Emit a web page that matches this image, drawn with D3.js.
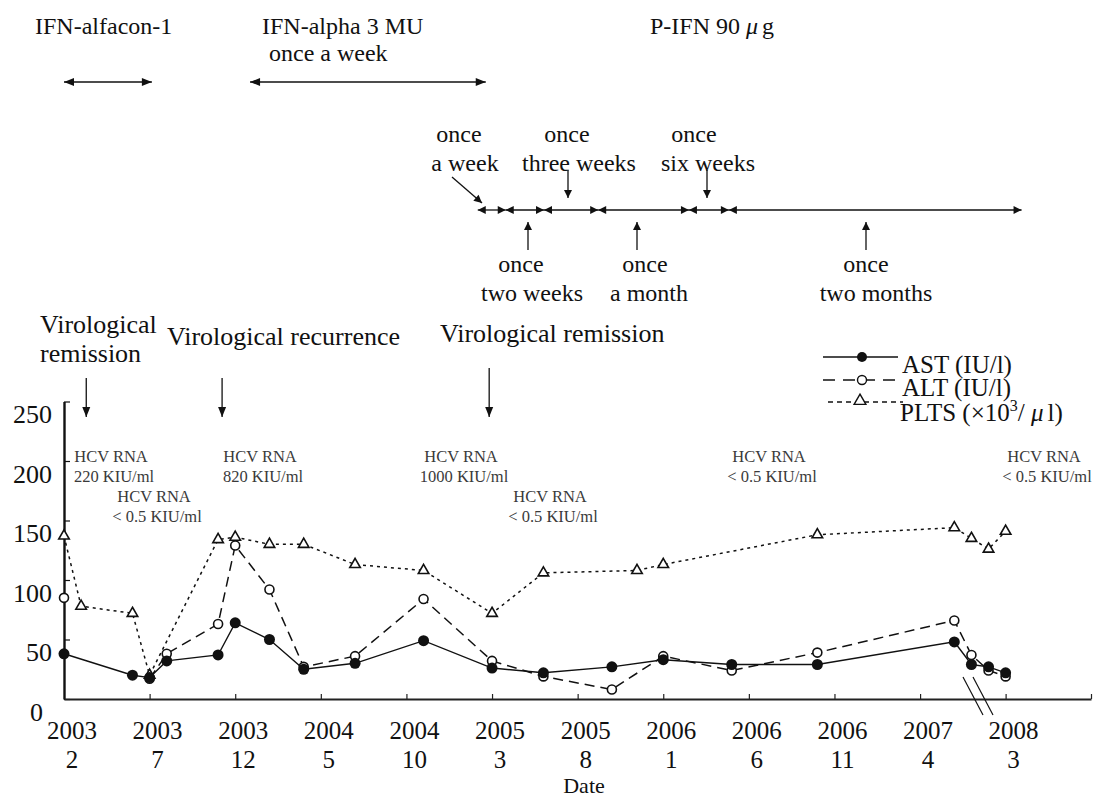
<!DOCTYPE html>
<html>
<head>
<meta charset="utf-8">
<script src="https://cdn.jsdelivr.net/npm/d3@7/dist/d3.min.js"></script>
<style>
	body { margin: 0; background: #fff; }
	svg { display: block; font-family: "Liberation Serif", "Times New Roman", serif; }
</style>
</head>
<body>
<div id="chart"></div>
<script>
// ---- data ----
var astDates  = ["2003-02","2003-06","2003-07","2003-08","2003-11","2003-12","2004-02","2004-04","2004-07","2004-11",
                 "2005-03","2005-06","2005-10","2006-01","2006-05","2006-10","2007-06","2007-07","2008-02","2008-03"];
var astValues = [38, 20, 18, 32, 37, 64, 50, 25, 30, 49, 26, 22, 27, 33, 29, 29, 48, 29, 27, 22];

var altDates  = ["2003-02","2003-06","2003-07","2003-08","2003-11","2003-12","2004-02","2004-04","2004-07","2004-11",
                 "2005-03","2005-06","2005-10","2006-01","2006-05","2006-10","2007-06","2007-07","2008-02","2008-03"];
var altValues = [85, null, 17, 38, 63, 129, 92, 27, 36, 84, 32, 19, 8, 36, 24, 39, 66, 37, 24, 19];

var pltsDates  = ["2003-02","2003-03","2003-06","2003-07","2003-11","2003-12","2004-02","2004-04","2004-07","2004-11",
                  "2005-03","2005-06","2005-11-15","2006-01","2006-10","2007-06","2007-07","2008-02","2008-03"];
var pltsValues = [137, 78, 72, 20, 134, 136, 130, 130, 113, 108, 72, 106, 108, 113, 138, 144, 135, 126, 141];

var tickDates  = ["2003-02","2003-07","2003-12","2004-05","2004-10","2005-03","2005-08","2006-01","2006-06","2006-11","2007-04","2008-03"];
var tickYears  = ["2003","2003","2003","2004","2004","2005","2005","2006","2006","2006","2007","2008"];
var tickMonths = ["2","7","12","5","10","3","8","1","6","11","4","3"];
var yTicks = [0, 50, 100, 150, 200, 250];

// treatment periods and events
var drugPeriods = [["2003-02-01","2003-07-05"], ["2003-12-27","2005-02-20"]];
var pegBounds = ["2005-02-06","2005-03-25","2005-06-02","2005-09-07","2006-02-16","2006-04-26","2008-03-29"];
var events = [
	{ date: "2003-03-10", top: 378 },
	{ date: "2003-11-08", top: 378 },
	{ date: "2005-02-26", top: 368 }
];
var hcvLabels = [
	{ x: 114, y: 462, t: "220 KIU/ml" },
	{ x: 157, y: 502, t: "< 0.5 KIU/ml" },
	{ x: 263, y: 462, t: "820 KIU/ml" },
	{ x: 464, y: 462, t: "1000 KIU/ml" },
	{ x: 553, y: 502, t: "< 0.5 KIU/ml" },
	{ x: 772, y: 462, t: "< 0.5 KIU/ml" },
	{ x: 1047, y: 462, t: "< 0.5 KIU/ml" }
];

function monthIdx(s) {
	var p = s.split("-").map(Number);
	return (p[0] - 2003) * 12 + (p[1] - 2) + ((p[2] || 1) - 1) / 30;
}

var W = 1094, H = 798;
var svg = d3.select("#chart").append("svg").attr("width", W).attr("height", H);

// axis break between 2007-07 and 2008-02 (6 months cut out)
var x = d3.scaleLinear().domain([0, 53.5, 59.5, 66]).range([64, 980, 980, 1091]);
var y = d3.scaleLinear().domain([0, 250]).range([699, 401.5]);

// ---- axes ----
var yAxis = svg.append("g").attr("transform", "translate(" + x(0) + ",0)")
	.call(d3.axisLeft(y).tickValues(yTicks).tickSize(-6).tickSizeOuter(0).tickPadding(12));
yAxis.attr("font-family", null).attr("font-size", 26);
yAxis.select(".domain").attr("stroke", "#111").attr("stroke-width", 2.4);
yAxis.selectAll(".tick line").attr("stroke", "#111").attr("stroke-width", 1.2);
yAxis.selectAll(".tick text").attr("y", 13).attr("fill", "#111")
	.filter(function (d) { return d === 0; }).attr("x", -21);

var xTickIdx = tickDates.slice(1).map(monthIdx).concat([66]);
var xAxis = svg.append("g").attr("transform", "translate(0," + y(0) + ")")
	.call(d3.axisBottom(x).tickValues(xTickIdx).tickSize(-5).tickSizeOuter(0).tickFormat(""));
xAxis.select(".domain").attr("stroke", "#222").attr("stroke-width", 2.2);
xAxis.selectAll(".tick line").attr("stroke", "#222").attr("stroke-width", 1.2);

// break marks
[0, 10].forEach(function (o) {
	svg.append("line")
		.attr("x1", x(53.5) - 17 + o).attr("y1", y(0) - 22)
		.attr("x2", x(53.5) + 3 + o).attr("y2", y(0) + 16)
		.attr("stroke", "#111").attr("stroke-width", 1.2);
});

// x tick labels (two lines)
var xl = svg.append("g").attr("font-size", 25).attr("text-anchor", "middle").attr("fill", "#111");
tickDates.forEach(function (d, i) {
	var px = x(monthIdx(d)) + 8;
	xl.append("text").attr("x", px).attr("y", 739).text(tickYears[i]);
	xl.append("text").attr("x", px).attr("y", 768).text(tickMonths[i]);
});
svg.append("text").attr("x", 584).attr("y", 793).attr("text-anchor", "middle")
	.attr("font-size", 22).attr("fill", "#111").text("Date");

// ---- series ----
function toPts(dates, vals) {
	return dates.map(function (d, i) { return { t: monthIdx(d), v: vals[i] }; });
}
var ast = toPts(astDates, astValues),
	alt = toPts(altDates, altValues),
	plts = toPts(pltsDates, pltsValues);

var line = d3.line().defined(function (d) { return d.v != null; })
	.x(function (d) { return x(d.t); }).y(function (d) { return y(d.v); });

svg.append("path").datum(plts).attr("d", line).attr("fill", "none")
	.attr("stroke", "#111").attr("stroke-width", 1.5).attr("stroke-dasharray", "3,4");
svg.append("path").datum(alt).attr("d", line).attr("fill", "none")
	.attr("stroke", "#111").attr("stroke-width", 1.5).attr("stroke-dasharray", "10,6");
svg.append("path").datum(ast).attr("d", line).attr("fill", "none")
	.attr("stroke", "#111").attr("stroke-width", 1.4);

var tri = d3.symbol(d3.symbolTriangle, 48);
svg.append("g").selectAll("path").data(plts).join("path")
	.attr("d", tri).attr("transform", function (d) { return "translate(" + x(d.t) + "," + y(d.v) + ")"; })
	.attr("fill", "#fff").attr("stroke", "#111").attr("stroke-width", 1.6);
svg.append("g").selectAll("circle").data(alt.filter(function (d) { return d.v != null; })).join("circle")
	.attr("cx", function (d) { return x(d.t); }).attr("cy", function (d) { return y(d.v); })
	.attr("r", 4.5).attr("fill", "#fff").attr("stroke", "#111").attr("stroke-width", 1.6);
svg.append("g").selectAll("circle").data(ast).join("circle")
	.attr("cx", function (d) { return x(d.t); }).attr("cy", function (d) { return y(d.v); })
	.attr("r", 5.5).attr("fill", "#111");

// ---- arrows helper ----
function head(px, py, dx, dy, len, hw) {
	var n = Math.sqrt(dx * dx + dy * dy), ux = dx / n, uy = dy / n;
	var bx = px - ux * len, by = py - uy * len;
	svg.append("path")
		.attr("d", "M" + px + "," + py + "L" + (bx - uy * hw) + "," + (by + ux * hw) + "L" + (bx + uy * hw) + "," + (by - ux * hw) + "Z")
		.attr("fill", "#111");
}
function arrow(x1, y1, x2, y2, both, len, hw) {
	len = len || 9; hw = hw || 4;
	svg.append("line").attr("x1", x1).attr("y1", y1).attr("x2", x2).attr("y2", y2)
		.attr("stroke", "#111").attr("stroke-width", 1.3);
	head(x2, y2, x2 - x1, y2 - y1, len, hw);
	if (both) head(x1, y1, x1 - x2, y1 - y2, len, hw);
}

// treatment periods
drugPeriods.forEach(function (p) {
	arrow(x(monthIdx(p[0])), 82, x(monthIdx(p[1])), 82, true, 10, 4);
});
for (var i = 0; i < pegBounds.length - 1; i++) {
	arrow(x(monthIdx(pegBounds[i])), 210, x(monthIdx(pegBounds[i + 1])), 210, true, 8, 4);
}

// events
events.forEach(function (e) {
	arrow(x(monthIdx(e.date)), e.top, x(monthIdx(e.date)), 417, false, 10, 4);
});

// pointer arrows for dosing intervals
arrow(452, 177, 482, 203, false, 8, 4);
arrow(568, 170, 568, 198, false, 8, 4);
arrow(707, 170, 707, 198, false, 8, 4);
arrow(528, 250, 528, 222, false, 8, 4);
arrow(637, 250, 637, 222, false, 8, 4);
arrow(866, 250, 866, 222, false, 8, 4);

// ---- texts ----
var tx = svg.append("g").attr("fill", "#111");
function label(xp, yp, s, size, anchor) {
	return tx.append("text").attr("x", xp).attr("y", yp).attr("font-size", size)
		.attr("text-anchor", anchor || "start").text(s);
}
label(35, 34, "IFN-alfacon-1", 24);
label(262, 34, "IFN-alpha 3 MU", 24);
label(269, 61, "once a week", 24);
var pifn = label(650, 34, "P-IFN 90 ", 24);
pifn.append("tspan").attr("font-style", "italic").text("\u03bc");
pifn.append("tspan").attr("dx", 4).text("g");

label(459, 142, "once", 24, "middle");
label(465, 171, "a week", 24, "middle");
label(567, 142, "once", 24, "middle");
label(579, 171, "three weeks", 24, "middle");
label(694, 142, "once", 24, "middle");
label(708, 171, "six weeks", 24, "middle");
label(521, 272, "once", 24, "middle");
label(532, 301, "two weeks", 24, "middle");
label(645, 272, "once", 24, "middle");
label(649, 301, "a month", 24, "middle");
label(866, 272, "once", 24, "middle");
label(876, 301, "two months", 24, "middle");

label(40, 333, "Virological", 26);
label(40, 362, "remission", 26);
label(167, 345, "Virological recurrence", 26);
label(440, 342, "Virological remission", 26);

var hcv = svg.append("g").attr("fill", "#3a3a3a").attr("font-size", 16.5).attr("text-anchor", "middle");
hcvLabels.forEach(function (h) {
	hcv.append("text").attr("x", h.x - 3).attr("y", h.y).text("HCV RNA");
	hcv.append("text").attr("x", h.x).attr("y", h.y + 20).text(h.t);
});

// ---- legend ----
var lg = svg.append("g");
lg.append("line").attr("x1", 823).attr("x2", 898).attr("y1", 357).attr("y2", 357)
	.attr("stroke", "#111").attr("stroke-width", 1.4);
lg.append("circle").attr("cx", 862).attr("cy", 357).attr("r", 5).attr("fill", "#111");
lg.append("line").attr("x1", 823).attr("x2", 898).attr("y1", 380).attr("y2", 380)
	.attr("stroke", "#111").attr("stroke-width", 1.4).attr("stroke-dasharray", "12,8");
lg.append("circle").attr("cx", 862).attr("cy", 380).attr("r", 4.5).attr("fill", "#fff")
	.attr("stroke", "#111").attr("stroke-width", 1.4);
lg.append("line").attr("x1", 828).attr("x2", 903).attr("y1", 402).attr("y2", 402)
	.attr("stroke", "#111").attr("stroke-width", 1.4).attr("stroke-dasharray", "5,4");
lg.append("path").attr("d", d3.symbol(d3.symbolTriangle, 60)).attr("transform", "translate(860,401)")
	.attr("fill", "#fff").attr("stroke", "#111").attr("stroke-width", 1.4);
label(902, 373, "AST (IU/l)", 25);
label(902, 396, "ALT (IU/l)", 25);
var pl = label(900, 421, "PLTS (\u00d710", 25);
pl.append("tspan").attr("font-size", 16).attr("dy", -10).text("3");
pl.append("tspan").attr("dy", 10).text("/ ");
pl.append("tspan").attr("font-style", "italic").text("\u03bc");
pl.append("tspan").attr("dx", 4).text("l)");
</script>
</body>
</html>
